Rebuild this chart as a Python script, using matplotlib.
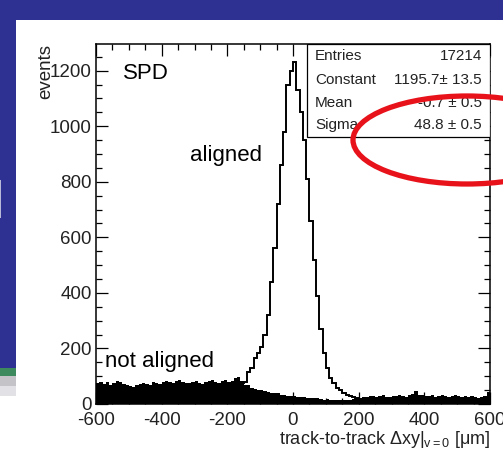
"""
plot.py
---------
SPD track-to-track residuals, aligned vs not aligned (slide screenshot)
---------
"""
import numpy as np
import matplotlib
matplotlib.use('Agg')
import matplotlib.pyplot as plt
from matplotlib.patches import Rectangle, Ellipse
from matplotlib.transforms import IdentityTransform
from matplotlib.ticker import MultipleLocator

plt.rcParams['font.family'] = ['Liberation Sans', 'DejaVu Sans']
plt.rcParams['mathtext.fontset'] = 'custom'
plt.rcParams['mathtext.rm'] = 'Liberation Sans'
plt.rcParams['mathtext.it'] = 'Liberation Sans'
plt.rcParams['axes.unicode_minus'] = False

# ---------------- data (10 um bins from -600 to 600) ----------------
binEdges = np.linspace(-600, 600, 121)

# aligned: counts per bin
alignedLeft = [2, 2, 3, 2, 3, 3, 2, 4, 3, 3,
               4, 3, 4, 4, 5, 4, 5, 5, 6, 5,
               6, 6, 7, 6, 7, 8, 8, 9, 8, 9,
               10, 10, 11, 12, 12, 13, 14, 14, 15, 16]            # -600 .. -210
alignedCore = [18, 22, 28, 36, 74, 80, 116, 130, 165, 185,
               206, 250, 320, 440, 560, 720, 860, 980, 1150, 1200,
               1232, 1130, 1050, 950, 810, 660, 520, 390, 270, 185,
               130, 95, 75, 58, 50, 40, 34, 28, 24, 20]           # -200 .. 190
alignedRight = [16, 14, 12, 10, 9, 8, 6, 6, 5, 4,
                4, 3, 3, 3, 2, 2, 2, 2, 1, 1,
                1, 1, 1, 1, 1, 0, 1, 0, 0, 1,
                0, 0, 1, 0, 0, 0, 0, 1, 0, 0]                      # 200 .. 590

# not aligned
notAlignedLeft = [74, 78, 72, 80, 70, 76, 82, 79, 71, 68,
                  64, 62, 70, 72, 75, 73, 70, 78, 76, 72,
                  80, 84, 78, 74, 82, 86, 80, 77, 74, 79,
                  83, 76, 72, 80, 84, 88, 78, 74, 82, 86]         # -600 .. -210
notAlignedCore = [80, 84, 92, 96, 84, 70, 68, 58, 54, 52,
                  50, 46, 44, 40, 38, 40, 34, 32, 30, 28,
                  30, 26, 24, 25, 22, 21, 20, 22, 18, 16,
                  17, 14, 15, 14, 16, 13, 15, 14, 18, 20]         # -200 .. 190
notAlignedRight = [22, 26, 24, 28, 30, 26, 28, 32, 25, 27,
                   30, 28, 34, 30, 26, 32, 36, 46, 32, 34,
                   30, 28, 32, 26, 30, 34, 28, 26, 30, 32,
                   28, 24, 30, 26, 28, 24, 22, 26, 30, 42]        # 200 .. 590

aligned = np.array(alignedLeft + alignedCore + alignedRight)
notAligned = np.array(notAlignedLeft + notAlignedCore + notAlignedRight)

statNames = ['Entries', 'Constant', 'Mean', 'Sigma']
statValues = ['17214', '1195.7\u00b1 13.5', '-0.7 \u00b1 0.5', '48.8 \u00b1 0.5']

xTicks = [-600, -400, -200, 0, 200, 400, 600]
yTicks = [0, 200, 400, 600, 800, 1000, 1200]

# ---------------- figure ----------------
W, H = 503, 455
fig = plt.figure(figsize=(W / 100, H / 100), dpi=100)
fig.patch.set_facecolor('white')

slideBlue = '#2e3192'
#slide decorations (pixel coords, origin bottom left)
deco = [
    ((0, H - 20), W, 20, slideBlue),
    ((0, H - 368), 16, 348, slideBlue),
    ((0, H - 376), 16, 8, '#3d8a5e'),
    ((0, H - 386), 16, 10, '#c4c4c8'),
    ((0, H - 396), 16, 10, '#e2e2e6'),
    ((0, H - 218), 1, 38, '#b8b8d8'),
]
for xy, w, h, c in deco:
    fig.patches.append(Rectangle(xy, w, h, facecolor=c, edgecolor='none',
                                 transform=IdentityTransform(), figure=fig, zorder=0))

ax = fig.add_axes([96 / W, 1 - 404 / H, 394 / W, 360 / H])

ax.stairs(aligned, binEdges, color='black', linewidth=1.4, zorder=2)
ax.stairs(notAligned, binEdges, fill=True, color='black', zorder=3)

ax.set_xlim(-600, 600)
ax.set_ylim(0, 1296)
ax.set_xticks(xTicks)
ax.set_yticks(yTicks)
ax.xaxis.set_minor_locator(MultipleLocator(50))
ax.yaxis.set_minor_locator(MultipleLocator(50))
ax.tick_params(which='both', direction='in', top=True, right=True, labelsize=13.5, width=0.9,
               labelcolor='#222222')
ax.tick_params(which='major', length=8.5, pad=3)
ax.tick_params(axis='x', which='major', pad=6)
ax.tick_params(which='minor', length=4.3)
for s in ax.spines.values():
    s.set_linewidth(1.1)

ax.set_xlabel('track-to-track \u0394xy$|_{v=0}$ [\u03bcm]', loc='right', fontsize=13, labelpad=0,
              color='#222222')
ax.set_ylabel('events', loc='top', fontsize=13.5, labelpad=-3, color='#222222')

ax.text(0.068, 0.917, 'SPD', transform=ax.transAxes, fontsize=16, ha='left', va='center')
ax.text(0.239, 0.689, 'aligned', transform=ax.transAxes, fontsize=16, ha='left', va='center')
ax.text(0.023, 0.117, 'not aligned', transform=ax.transAxes, fontsize=16, ha='left', va='center')

#stat box
boxLeft = (307 - 96) / 394
boxBottom = (404 - 137) / 360
ax.add_patch(Rectangle((boxLeft, boxBottom), 1 - boxLeft, 1 - boxBottom, transform=ax.transAxes,
                       facecolor='white', edgecolor='black', linewidth=0.9, zorder=5))
rowY = [56, 80, 103, 125]
for name, val, yy in zip(statNames, statValues, rowY):
    fy = (404 - yy) / 360
    ax.text((315 - 96) / 394, fy, name, transform=ax.transAxes, fontsize=11,
            ha='left', va='center', zorder=6, color='#222222')
    ax.text((482 - 96) / 394, fy, val, transform=ax.transAxes, fontsize=11,
            ha='right', va='center', zorder=6, color='#222222')

#red ellipse drawn on the slide
fig.patches.append(Ellipse((467, H - 140), 228, 88, fill=False, edgecolor='#e8121a', linewidth=3.8,
                           transform=IdentityTransform(), figure=fig, zorder=10))

fig.savefig('out.png', dpi=100)
